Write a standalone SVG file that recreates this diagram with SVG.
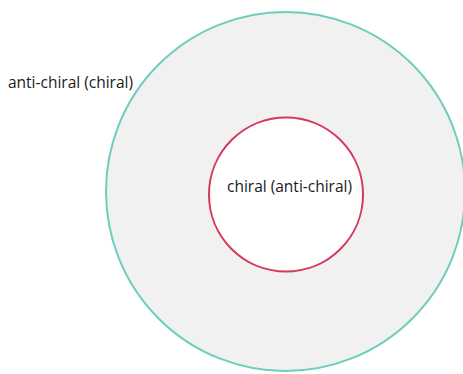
<svg xmlns="http://www.w3.org/2000/svg" width="463" height="374" viewBox="0 0 463 374">
  <style>
    .label { font-family: "Open Sans", "Liberation Sans", sans-serif; font-size: 16px; fill: #1a1a1a; }
  </style>
  <rect width="463" height="374" fill="#ffffff"/>
  <g id="outer">
    <circle cx="285.5" cy="191.5" r="179.5" fill="#f1f1f1" stroke="#6fcdbd" stroke-width="2"/>
    <text class="label" x="8" y="87.5" textLength="125" lengthAdjust="spacingAndGlyphs">anti-chiral (chiral)</text>
  </g>
  <g id="inner">
    <circle cx="286" cy="194.5" r="77" fill="#ffffff" stroke="#d7385a" stroke-width="2"/>
    <text class="label" x="227" y="192" textLength="125" lengthAdjust="spacingAndGlyphs">chiral (anti-chiral)</text>
  </g>
  <g id="connectors"/>
</svg>
